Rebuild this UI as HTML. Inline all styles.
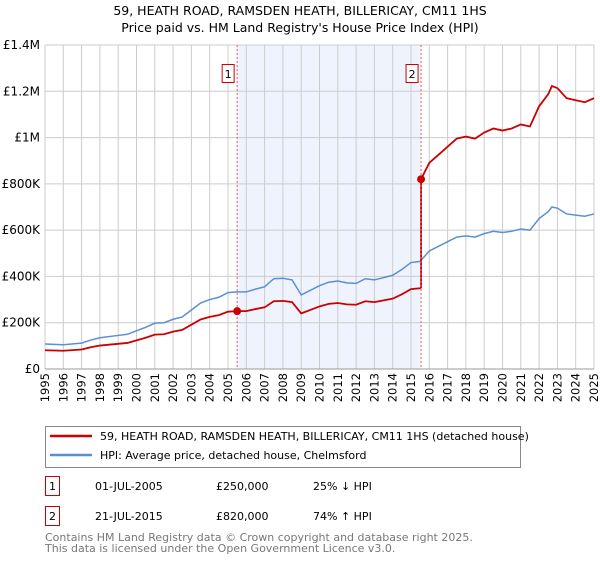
<!DOCTYPE html>
<html><head><meta charset="utf-8"><style>
body{margin:0;background:#fff;font-family:"Liberation Sans","DejaVu Sans",sans-serif;}
svg text{font-family:"DejaVu Sans","Liberation Sans",sans-serif;}
</style></head><body>
<svg id="c" width="600" height="560" xmlns="http://www.w3.org/2000/svg">
<text x="300" y="15" text-anchor="middle" font-size="12.5">59, HEATH ROAD, RAMSDEN HEATH, BILLERICAY, CM11 1HS</text>
<text x="300" y="32" text-anchor="middle" font-size="12.5">Price paid vs. HM Land Registry's House Price Index (HPI)</text>
<g id="plot"></g>
<rect x="45.5" y="426.5" width="475" height="41" fill="#fff" stroke="#888"/>
<line x1="50" y1="436" x2="92" y2="436" stroke="#cc0000" stroke-width="2.5"/>
<text x="100" y="440" font-size="11">59, HEATH ROAD, RAMSDEN HEATH, BILLERICAY, CM11 1HS (detached house)</text>
<line x1="50" y1="455" x2="92" y2="455" stroke="#5b8fd4" stroke-width="2.5"/>
<text x="100" y="459" font-size="11">HPI: Average price, detached house, Chelmsford</text>
<g font-size="11">
<rect x="45.5" y="476.5" width="14" height="19" fill="#fff" stroke="#cc0000"/>
<text x="52.5" y="490" text-anchor="middle">1</text>
<text x="95" y="490">01-JUL-2005</text><text x="216" y="490">£250,000</text><text x="313" y="490">25% ↓ HPI</text></g>
<g font-size="11">
<rect x="45.5" y="506.5" width="14" height="19" fill="#fff" stroke="#cc0000"/>
<text x="52.5" y="520" text-anchor="middle">2</text>
<text x="95" y="520">21-JUL-2015</text><text x="216" y="520">£820,000</text><text x="313" y="520">74% ↑ HPI</text></g>
<text x="45" y="541" font-size="11" fill="#777">Contains HM Land Registry data © Crown copyright and database right 2025.</text>
<text x="45" y="552" font-size="11" fill="#777">This data is licensed under the Open Government Licence v3.0.</text>
</svg>
<script>
const hpiYears=[1995,1996,1997,1997.5,1998,1999,1999.5,2000,2000.5,2001,2001.5,2002,2002.5,2003,2003.5,2004,2004.5,2005,2005.5,2006,2006.5,2007,2007.5,2008,2008.5,2009,2009.5,2010,2010.5,2011,2011.5,2012,2012.5,2013,2013.5,2014,2014.5,2015,2015.5,2016,2016.5,2017,2017.5,2018,2018.5,2019,2019.5,2020,2020.5,2021,2021.5,2022,2022.5,2022.7,2023,2023.5,2024,2024.5,2025];
const hpiValues=[108,105,112,125,135,145,150,165,180,198,200,215,225,255,285,300,310,330,333,333,345,355,390,392,385,320,340,360,375,380,372,370,390,385,395,405,430,460,465,510,530,550,570,575,570,585,595,590,595,605,600,650,680,700,695,670,665,660,670];
const saleYears=[2005.5,2015.55];
const salePrices=[250,820];
const saleLabels=["1","2"];
const yTicks=[0,200,400,600,800,1000,1200,1400];
const yTickLabels=["£0","£200K","£400K","£600K","£800K","£1M","£1.2M","£1.4M"];
const X0=45,X1=594,Y0=369,Y1=45;
const xs=y=>X0+(y-1995)/30*(X1-X0);
const ys=v=>Y0-v/1400*(Y0-Y1);
const NS="http://www.w3.org/2000/svg";
const g=document.getElementById('plot');
function el(t,a,p){const e=document.createElementNS(NS,t);for(const k in a)e.setAttribute(k,a[k]);(p||g).appendChild(e);return e;}
function hpiAt(t){for(let i=0;i<hpiYears.length-1;i++){if(t>=hpiYears[i]&&t<=hpiYears[i+1]){const f=(t-hpiYears[i])/(hpiYears[i+1]-hpiYears[i]);return hpiValues[i]+f*(hpiValues[i+1]-hpiValues[i]);}}return hpiValues[hpiValues.length-1];}
let r=el('rect',{x:xs(saleYears[0]),y:Y1,width:xs(saleYears[1])-xs(saleYears[0]),height:Y0-Y1,fill:'#eef3fd'});


for(let yr=1995;yr<=2025;yr++){
 let l=el('line',{x1:xs(yr),x2:xs(yr),y1:Y1,y2:Y0,stroke:'#ccc','stroke-width':1});
 
 
 let t=el('text',{x:0,y:0,'font-size':11.5,'text-anchor':'end',transform:`translate(${xs(yr)+4},${Y0+4}) rotate(-90)`});
 t.textContent=yr;
 
 
}
yTicks.forEach((v,i)=>{
 let l=el('line',{x1:X0,x2:X1,y1:ys(v),y2:ys(v),stroke:'#ccc','stroke-width':1});
 
 
 let t=el('text',{x:X0-5,y:ys(v)+4,'font-size':12,'text-anchor':'end'});
 t.textContent=yTickLabels[i];
 
 
});
// HPI line
let hp=el('polyline',{points:hpiYears.map((y,i)=>xs(y)+','+ys(hpiValues[i])).join(' '),fill:'none',stroke:'#5b8fd4','stroke-width':1.5});


// property line
const r1=salePrices[0]/hpiAt(saleYears[0]),r2=salePrices[1]/hpiAt(saleYears[1]);
let pts=[];
hpiYears.forEach((y,i)=>{if(y<saleYears[1])pts.push([y,hpiValues[i]*r1]);});
pts.push([saleYears[1],hpiAt(saleYears[1])*r1]);
pts.push([saleYears[1],salePrices[1]]);
hpiYears.forEach((y,i)=>{if(y>saleYears[1])pts.push([y,hpiValues[i]*r2]);});
let pp=el('polyline',{points:pts.map(p=>xs(p[0])+','+ys(p[1])).join(' '),fill:'none',stroke:'#cc0000','stroke-width':1.8});


saleYears.forEach((sy,i)=>{
 let l=el('line',{x1:xs(sy),x2:xs(sy),y1:Y1,y2:Y0,stroke:'#e06060','stroke-width':1,'stroke-dasharray':'2,2'});
 
 
 let b=el('rect',{x:xs(sy)-15,y:64.5,width:12,height:18,fill:'#fff',stroke:'#cc0000'});
 
 
 let t=el('text',{x:xs(sy)-9,y:78,'font-size':11,'text-anchor':'middle'});
 t.textContent=saleLabels[i];
 
 
 let c=el('circle',{cx:xs(sy),cy:ys(salePrices[i]),r:4,fill:'#cc0000'});
 
 
});
let ax=el('line',{x1:X0,x2:X1,y1:Y0,y2:Y0,stroke:'#999'});


</script>
</body></html>
